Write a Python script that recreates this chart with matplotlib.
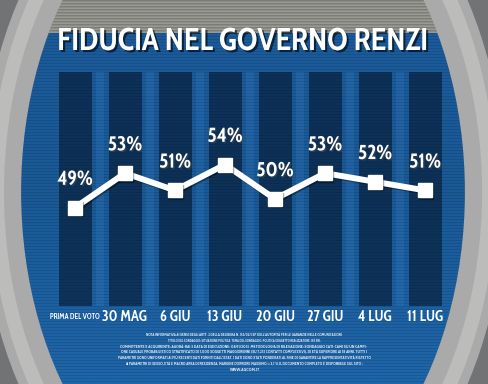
import numpy as np
import matplotlib
matplotlib.use("Agg")
import matplotlib.pyplot as plt
from matplotlib import patheffects
from matplotlib.colors import LinearSegmentedColormap
from matplotlib.patches import Ellipse, Rectangle

# data
dates = ["PRIMA DEL VOTO", "30 MAG", "6 GIU", "13 GIU", "20 GIU", "27 GIU", "4 LUG", "11 LUG"]
fiducia = [49, 53, 51, 54, 50, 53, 52, 51]
title = "FIDUCIA NEL GOVERNO RENZI"
note_lines = [
    "NOTA INFORMATIVA AI SENSI DEGLI ARTT. 2 DELLA DELIBERA N. 153/02/CSP DELL'AUTORITÀ PER LE GARANZIE NELLE COMUNICAZIONI",
    "TITOLO DEL SONDAGGIO: SITUAZIONE POLITICA  TEMA DEL SONDAGGIO: POLITICA SOGGETTO REALIZZATORE: IXÈ SRL",
    "COMMITTENTE E ACQUIRENTE: AGORÀ-RAI 3 DATA DI ESECUZIONE: 08/11/2013  METODOLOGIA DI RILEVAZIONE: SONDAGGIO CATI-CAMI SU UN CAMPI-",
    "ONE CASUALE PROBABILISTICO STRATIFICATO DI 1.000 SOGGETTI MAGGIORENNI (SU 7.231 CONTATTI COMPLESSIVI), DI ETÀ SUPERIORE AI 18 ANNI. TUTTI I",
    "PARAMETRI SONO UNIFORMATI AI PIÙ RECENTI DATI FORNITI DALL'ISTAT. I DATI SONO STATI PONDERATI AL FINE DI GARANTIRE LA RAPPRESENTATIVITÀ RISPETTO",
    "AI PARAMETRI DI SESSO, ETÀ E MACRO AREA DI RESIDENZA. MARGINE D'ERRORE MASSIMO: ± 3,1 % IL DOCUMENTO COMPLETO È DISPONIBILE SUL SITO :",
    "WWW.AGCOM.IT",
]

plt.rcParams["font.family"] = ["Cabin Condensed", "Oswald", "DejaVu Sans"]

W, H = 488, 384
fig = plt.figure(figsize=(W / 100, H / 100), dpi=100)
fig.patch.set_facecolor("#727375")
renderer = fig.canvas.get_renderer()


def fit_width(txt, px):
    # shrink or grow a text so it spans about px pixels
    w = txt.get_window_extent(renderer).width
    txt.set_fontsize(txt.get_fontsize() * px / w)


# background: blue oval inside a brushed steel ring
bg = fig.add_axes([0, 0, 1, 1], zorder=0)
bg.set_xlim(0, W)
bg.set_ylim(H, 0)
bg.set_axis_off()

cx, cy = 243, 192
oval = Ellipse((cx, cy), 2 * 242, 2 * 351, facecolor="none", edgecolor="none")
bg.add_patch(oval)
grad = np.linspace(0, 1, 256)[:, None]
blue = bg.imshow(grad, extent=(0, W, H, 0), aspect="auto", zorder=1,
                 cmap=LinearSegmentedColormap.from_list("bl", ["#1c5c9e", "#1a5a98", "#1f67ac"]))
blue.set_clip_path(oval)

top = Rectangle((0, 0), W, 33, facecolor="#8f8f88", edgecolor="none", zorder=2)
bg.add_patch(top)
top.set_clip_path(oval)

scan_y = np.arange(0, H, 3)
lines = bg.hlines(scan_y, 0, W, colors="black", alpha=0.13, lw=0.8, zorder=3)
lines.set_clip_path(oval)
light = bg.hlines(scan_y[:11] + 1.5, 0, W, colors="white", alpha=0.12, lw=0.8, zorder=3)
light.set_clip_path(oval)

# soft shadow on the inner side of the ring, then the ring
bg.add_patch(Ellipse((cx, cy), 2 * 226, 2 * 335, facecolor="none",
                     edgecolor="#0a2a4c", lw=6, alpha=0.5, zorder=4))
bg.add_patch(Ellipse((cx, cy), 2 * 242, 2 * 351, facecolor="none",
                     edgecolor="#a9aaa9", lw=29, zorder=5))
bg.add_patch(Ellipse((cx, cy), 2 * 246, 2 * 355, facecolor="none",
                     edgecolor="#c9c9c7", lw=10, alpha=0.6, zorder=6))

# title
t = bg.text(243, 42, title, ha="center", va="center", fontsize=26, fontweight="bold",
            color="white", zorder=7,
            path_effects=[patheffects.SimplePatchShadow(offset=(1.5, -1.5), shadow_rgbFace="black", alpha=0.6),
                          patheffects.Normal()])
fit_width(t, 371)

# footer note
note_px = [194, 150, 248, 246, 250, 236, 30]
for k, line in enumerate(note_lines):
    nt = bg.text(244, 335 + k * 5.8, line, ha="center", va="center", fontsize=3,
                 fontweight="bold", color="#e8eef5", zorder=7)
    fit_width(nt, note_px[k])
    nt.set_fontsize(min(nt.get_fontsize(), 3.6))

# chart
ax = fig.add_axes([50 / W, (H - 306) / H, 400 / W, 234 / H], zorder=1)
ax.set_facecolor("none")
ax.set_axis_off()
x = np.arange(len(dates))
ymid, px_per_unit = 51.625, 8.6
ylo = ymid - (306 - 185) / px_per_unit
yhi = ymid + (185 - 72) / px_per_unit
ax.set_xlim(-0.5, len(dates) - 0.5)
ax.set_ylim(ylo, yhi)

ax.bar(x, yhi - ylo, bottom=ylo, width=0.66, color="#04162c", alpha=0.6, zorder=1)
ax.bar(x[:-1] + 0.5, yhi - ylo, bottom=ylo, width=0.15, color="#3a86cc", alpha=0.22, zorder=1)

ax.plot(x, fiducia, color="white", lw=4.3, marker="s", ms=10, solid_joinstyle="miter",
        zorder=3, path_effects=[patheffects.SimpleLineShadow(offset=(1, -1), alpha=0.4),
                                patheffects.Normal()])
for xi, v in zip(x, fiducia):
    ax.annotate(f"{v}%", (xi, v), xytext=(0, 20), textcoords="offset points",
                ha="center", va="center", fontsize=14.5, fontweight="bold", color="white",
                zorder=4, path_effects=[patheffects.SimplePatchShadow(offset=(1, -1), alpha=0.5),
                                        patheffects.Normal()])

# date labels under the columns
for xi, d in zip(x, dates):
    lab = ax.annotate(d, (xi, 0), xycoords=("data", "axes fraction"), xytext=(0, -8),
                      textcoords="offset points", ha="center", va="center",
                      fontsize=10.5, fontweight="bold", color="white", annotation_clip=False)
    if xi == 0:
        fit_width(lab, 50)

fig.savefig("out.png", dpi=100)
